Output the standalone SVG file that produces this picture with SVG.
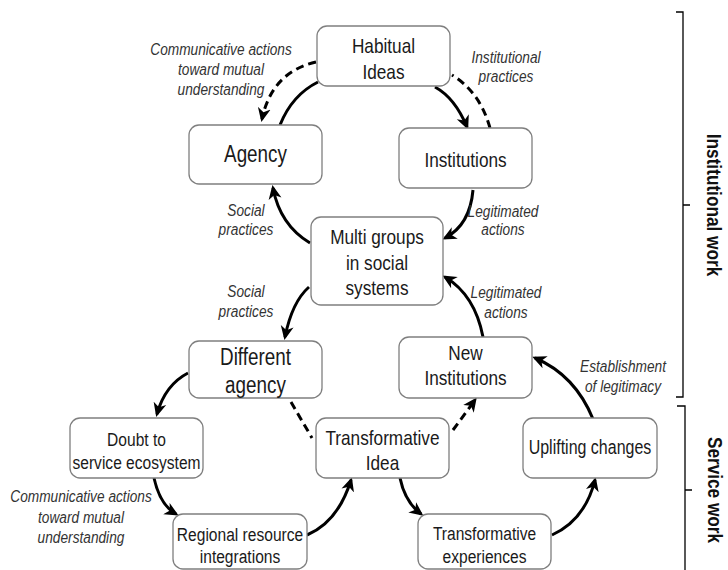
<svg xmlns="http://www.w3.org/2000/svg" width="728" height="570" viewBox="0 0 728 570">
<style>
.box{fill:#fff;stroke:#7f7f7f;stroke-width:1.3}
.nt{font-family:"Liberation Sans",Arial,sans-serif;fill:#1a1a1a;text-anchor:middle}
.lb{font-family:"Liberation Sans",Arial,sans-serif;font-style:italic;font-size:16.7px;fill:#333;text-anchor:middle}
.side{font-family:"Liberation Sans",Arial,sans-serif;font-weight:bold;font-size:21px;fill:#111;text-anchor:middle}
.c{fill:none;stroke:#000;stroke-width:3}
.d{fill:none;stroke:#000;stroke-width:3;stroke-dasharray:8 5}
.a{marker-end:url(#ah)}
.br{fill:none;stroke:#000;stroke-width:1.3}
</style>
<defs>
<marker id="ah" markerUnits="userSpaceOnUse" markerWidth="14" markerHeight="14" viewBox="0 0 14 14" refX="11" refY="7" orient="auto">
<path d="M0,0.5 L14,7 L0,13.5 L4,7 z" fill="#000"/>
</marker>
</defs>
<g id="connectors">
<path class="d a" d="M316,62 Q272,72 262,119"/>
<path class="c" d="M280,125 Q292,95 318,82"/>
<path class="c a" d="M435,87 Q455,98 467,127"/>
<path class="d" d="M490,128 Q480,92 452,75"/>
<path class="c a" d="M473,190 Q470,225 445,238"/>
<path class="c a" d="M310,243 Q280,225 273,188"/>
<path class="c a" d="M309,287 Q292,302 285,337"/>
<path class="c a" d="M483,337 Q475,295 445,277"/>
<path class="c a" d="M188,373 Q165,385 157,414"/>
<path class="d" d="M291,402 L312,438"/>
<path class="d a" d="M453,430 L475,400"/>
<path class="c a" d="M154,478 Q160,505 176,514"/>
<path class="c a" d="M307,535 Q338,522 351,480"/>
<path class="c a" d="M400,478 Q405,502 421,514"/>
<path class="c a" d="M552,535 Q585,520 595,480"/>
<path class="c a" d="M593,419 Q575,375 535,358"/>
</g>
<g id="habitual"><rect class="box" x="317" y="26" width="133" height="60" rx="10"/><text class="nt" font-size="21" transform="translate(383.5,0) scale(0.82,1)"><tspan x="0" y="53">Habitual</tspan><tspan x="0" y="79">Ideas</tspan></text></g>
<g id="agency"><rect class="box" x="189" y="125" width="133" height="59" rx="10"/><text class="nt" font-size="23" transform="translate(255.5,0) scale(0.82,1)" x="0" y="162">Agency</text></g>
<g id="institutions"><rect class="box" x="399" y="128" width="133" height="60" rx="10"/><text class="nt" font-size="21" transform="translate(465.5,0) scale(0.82,1)" x="0" y="167">Institutions</text></g>
<g id="multi"><rect class="box" x="311" y="217" width="132" height="88" rx="10"/><text class="nt" font-size="21" transform="translate(377,0) scale(0.82,1)"><tspan x="0" y="244">Multi groups</tspan><tspan x="0" y="270">in social</tspan><tspan x="0" y="295">systems</tspan></text></g>
<g id="different"><rect class="box" x="189" y="341" width="133" height="57" rx="10"/><text class="nt" font-size="23" transform="translate(255.5,0) scale(0.82,1)"><tspan x="0" y="365">Different</tspan><tspan x="0" y="393">agency</tspan></text></g>
<g id="newinst"><rect class="box" x="399" y="337" width="133" height="61" rx="10"/><text class="nt" font-size="21" transform="translate(465.5,0) scale(0.82,1)"><tspan x="0" y="360">New</tspan><tspan x="0" y="385">Institutions</tspan></text></g>
<g id="doubt"><rect class="box" x="70" y="418" width="133" height="60" rx="10"/><text class="nt" font-size="19" transform="translate(136.5,0) scale(0.82,1)"><tspan x="0" y="446">Doubt to</tspan><tspan x="0" y="469">service ecosystem</tspan></text></g>
<g id="transidea"><rect class="box" x="316" y="418" width="133" height="60" rx="10"/><text class="nt" font-size="21" transform="translate(382.5,0) scale(0.82,1)"><tspan x="0" y="445">Transformative</tspan><tspan x="0" y="470">Idea</tspan></text></g>
<g id="uplifting"><rect class="box" x="523" y="418" width="134" height="60" rx="10"/><text class="nt" font-size="19.5" transform="translate(590,0) scale(0.82,1)" x="0" y="454">Uplifting changes</text></g>
<g id="regional"><rect class="box" x="173" y="514" width="134" height="55" rx="10"/><text class="nt" font-size="19" transform="translate(240,0) scale(0.82,1)"><tspan x="0" y="541">Regional resource</tspan><tspan x="0" y="563">integrations</tspan></text></g>
<g id="transexp"><rect class="box" x="418" y="514" width="133" height="55" rx="10"/><text class="nt" font-size="19" transform="translate(484.5,0) scale(0.82,1)"><tspan x="0" y="540">Transformative</tspan><tspan x="0" y="563">experiences</tspan></text></g>
<g id="labels">
<text class="lb" transform="translate(221,0) scale(0.82,1)"><tspan x="0" y="55">Communicative actions</tspan><tspan x="0" y="75">toward mutual</tspan><tspan x="0" y="95">understanding</tspan></text>
<text class="lb" transform="translate(506,0) scale(0.82,1)"><tspan x="0" y="63">Institutional</tspan><tspan x="0" y="82">practices</tspan></text>
<text class="lb" transform="translate(246,0) scale(0.82,1)"><tspan x="0" y="216">Social</tspan><tspan x="0" y="235">practices</tspan></text>
<text class="lb" transform="translate(503,0) scale(0.82,1)"><tspan x="0" y="217">Legitimated</tspan><tspan x="0" y="235">actions</tspan></text>
<text class="lb" transform="translate(246,0) scale(0.82,1)"><tspan x="0" y="297">Social</tspan><tspan x="0" y="317">practices</tspan></text>
<text class="lb" transform="translate(506,0) scale(0.82,1)"><tspan x="0" y="298">Legitimated</tspan><tspan x="0" y="318">actions</tspan></text>
<text class="lb" transform="translate(623,0) scale(0.82,1)"><tspan x="0" y="372">Establishment</tspan><tspan x="0" y="392">of legitimacy</tspan></text>
<text class="lb" transform="translate(81,0) scale(0.82,1)"><tspan x="0" y="502">Communicative actions</tspan><tspan x="0" y="523">toward mutual</tspan><tspan x="0" y="543">understanding</tspan></text>
</g>
<g id="brackets">
<path class="br" d="M676,12 H683 V397 H676 M683,205 H690"/>
<path class="br" d="M677,406 H685 V570 M685,490 H692"/>
<text class="side" transform="translate(707,205) rotate(90) scale(0.82,1)">Institutional work</text>
<text class="side" transform="translate(708,490) rotate(90) scale(0.82,1)">Service work</text>
</g>
</svg>
